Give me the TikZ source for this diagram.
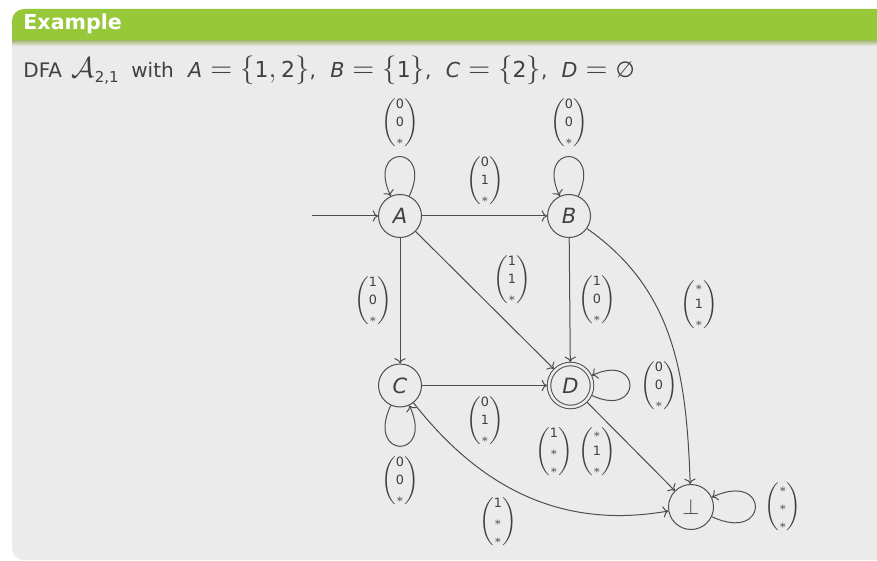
\documentclass[tikz,border=0pt]{standalone}
\usepackage{fontspec}
\setmainfont{DejaVu Sans}
\usetikzlibrary{arrows.meta}
\definecolor{hdr}{RGB}{151,200,58}
\definecolor{bodybg}{RGB}{235,235,235}
\definecolor{txt}{RGB}{64,64,64}
\definecolor{ln}{RGB}{78,78,78}
\newcommand\cvec[3]{$\left(\vcenter{\hbox{\fontsize{6.4}{8.8}\selectfont\begin{tabular}{@{}c@{}}#1\\#2\\#3\end{tabular}}}\right)$}
\newcommand\vr[1]{\mbox{\fontsize{10.3}{12}\selectfont\itshape #1}}
\newcommand\nm[1]{\mbox{\fontsize{11}{12}\selectfont #1}}
\newcommand\mth[1]{{\fontsize{14}{14}\selectfont$#1$}}
\begin{document}
\begin{tikzpicture}[x=0.5pt,y=0.5pt,
  st/.style={circle,draw=ln,line width=0.5pt,minimum size=21.5pt,inner sep=0pt,
    font=\fontsize{10.5}{12}\selectfont\itshape,text=txt},
  acc/.style={st,double=bodybg,double distance=1.25pt,outer sep=1pt},
  lab/.style={inner sep=0pt,text=txt},
  tr/.style={draw=ln,line width=0.5pt,->}
]
\useasboundingbox (0,0) rectangle (877,-561);
\clip (0,0) rectangle (877,-561);
\fill[white] (0,0) rectangle (877,-561);
% body box
\fill[bodybg,rounded corners=6] (12,-9) rectangle (900,-560);
% header
\fill[hdr,rounded corners=6] (12,-9) rectangle (900,-50);
\fill[bodybg] (12,-41) rectangle (900,-52);
\shade[top color=hdr!50!bodybg!88!black,bottom color=bodybg] (12,-41) rectangle (900,-46);
\node[anchor=base west,inner sep=0pt,text=white,font=\fontsize{10.3}{12}\selectfont\bfseries] (hd) at (23,-30) {Example};
\node[anchor=base west,inner sep=0pt,text=txt,font=\fontsize{10}{12}\selectfont] (title) at (23,-78)
 {DFA\, \mth{\mathcal{A}_{\mbox{\fontsize{7.5}{9}\selectfont 2,1}}}\,\hspace{1pt} with\hspace{4pt} \mth{\vr{A}=\{\nm{1},\nm{2}\}},\hspace{4pt} \mth{\vr{B}=\{\nm{1}\}},\hspace{4pt} \mth{\vr{C}=\{\nm{2}\}},\hspace{4pt} \mth{\vr{D}=\nm{∅}}};
% states
\node[st] (A) at (400,-216) {A};
\node[st] (B) at (569,-216) {B};
\node[st] (C) at (400,-385.5) {C};
\node[acc] (D) at (570.5,-385.5) {D};
\node[st,minimum size=22.5pt,font=\fontsize{11}{12}\selectfont] (F) at (691,-507) {$\perp$};
\coordinate (init) at (312,-216);
% edges
\draw[tr] (init) -- (A);
\draw[tr] (A) to[out=65,in=115,distance=29pt] (A);
\draw[tr] (B) to[out=65,in=115,distance=29pt] (B);
\draw[tr] (A) -- (B);
\draw[tr] (A) -- (C);
\draw[tr] (A) -- (D);
\draw[tr] (B) -- (D);
\draw[tr] (B) to[out=-35,in=92] (F);
\draw[tr] (C) -- (D);
\draw[tr] (C) to[out=245,in=295,distance=30pt] (C);
\draw[tr] (C) to[out=-52,in=190] (F);
\draw[tr] (D) to[out=-25,in=25,distance=28pt] (D);
\draw[tr] (D) -- (F);
\draw[tr] (F) to[out=-25,in=25,distance=32pt] (F);
% labels
\node[lab] (lAA) at (400,-123) {\cvec{0}{0}{$\ast$}};
\node[lab] (lBB) at (569,-123) {\cvec{0}{0}{$\ast$}};
\node[lab] (lAB) at (485,-181) {\cvec{0}{1}{$\ast$}};
\node[lab] (lAC) at (373,-301) {\cvec{1}{0}{$\ast$}};
\node[lab] (lAD) at (512,-280) {\cvec{1}{1}{$\ast$}};
\node[lab] (lBD) at (597,-300) {\cvec{1}{0}{$\ast$}};
\node[lab] (lBF) at (699,-305) {\cvec{$\ast$}{1}{$\ast$}};
\node[lab] (lCD) at (485,-421) {\cvec{0}{1}{$\ast$}};
\node[lab] (lCC) at (400,-481) {\cvec{0}{0}{$\ast$}};
\node[lab] (lDD) at (659,-386) {\cvec{0}{0}{$\ast$}};
\node[lab] (lCF) at (498,-522) {\cvec{1}{$\ast$}{$\ast$}};
\node[lab] (lDF1) at (554,-452) {\cvec{1}{$\ast$}{$\ast$}};
\node[lab] (lDF2) at (597,-452) {\cvec{$\ast$}{1}{$\ast$}};
\node[lab] (lFF) at (783,-507) {\cvec{$\ast$}{$\ast$}{$\ast$}};
\end{tikzpicture}
\end{document}
